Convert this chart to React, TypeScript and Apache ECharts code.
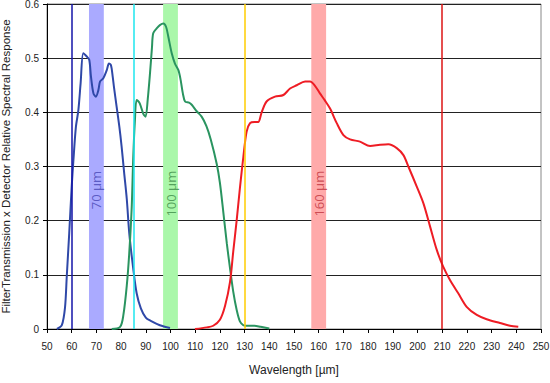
import React, { useEffect, useRef } from "react";
import * as echarts from "echarts";

const blueX = [54, 56, 57.3, 58, 59, 60, 60.7, 61.7, 62.7, 63.6, 64.7, 66.1, 67.1, 67.8, 68.8, 69.8, 70.8, 71.5, 72.8, 74.2, 75.1, 75.9, 76.6, 77.1, 78.2, 79.3, 80.2, 81.2, 82.3, 83.3, 84.9, 86.3, 88, 90, 92, 95.7, 99.8];
const blueY = [0, 0.007, 0.04, 0.097, 0.177, 0.263, 0.312, 0.373, 0.404, 0.453, 0.509, 0.503, 0.497, 0.466, 0.435, 0.429, 0.441, 0.457, 0.463, 0.478, 0.49, 0.487, 0.466, 0.447, 0.41, 0.373, 0.337, 0.29, 0.24, 0.177, 0.112, 0.066, 0.038, 0.021, 0.015, 0.007, 0.002];

const greenX = [76.2, 79.6, 80.9, 82.3, 83.3, 84.3, 84.9, 85.6, 86.3, 87.5, 89, 89.9, 90.8, 91.7, 92.5, 93, 94.4, 95.7, 97.1, 98.2, 99.1, 100.5, 101.8, 103.2, 104.1, 105, 105.9, 107.5, 108.6, 110.6, 112.6, 114.5, 116.3, 118.7, 120, 121.4, 122.8, 124.1, 125.4, 126.8, 128.1, 129.5, 130.5, 134, 136.5, 140];
const greenY = [0, 0.004, 0.025, 0.08, 0.14, 0.225, 0.315, 0.386, 0.423, 0.417, 0.397, 0.392, 0.425, 0.472, 0.52, 0.546, 0.555, 0.561, 0.564, 0.558, 0.54, 0.509, 0.49, 0.478, 0.46, 0.435, 0.42, 0.418, 0.414, 0.402, 0.392, 0.375, 0.35, 0.305, 0.27, 0.215, 0.158, 0.112, 0.069, 0.035, 0.014, 0.007, 0.006, 0.006, 0.004, 0.001];

const redX = [109.9, 114.7, 117.3, 120, 122.1, 124.1, 125.4, 126.8, 128.1, 129.5, 130.8, 132.2, 134, 135.5, 136.9, 138.9, 142.3, 145.7, 148.4, 151.1, 154.5, 156.5, 158.5, 160.5, 162.5, 164.6, 167.3, 170, 172.7, 176.7, 180.8, 184.8, 188.2, 191.6, 194.3, 196.3, 199.7, 202.4, 205.1, 207.8, 210.4, 213.2, 216.5, 219.9, 224, 228, 233.4, 237.4, 240.8];
const redY = [0, 0.003, 0.006, 0.017, 0.043, 0.087, 0.143, 0.201, 0.26, 0.318, 0.364, 0.38, 0.382, 0.382, 0.4, 0.42, 0.429, 0.432, 0.444, 0.45, 0.457, 0.457, 0.449, 0.435, 0.422, 0.407, 0.38, 0.358, 0.35, 0.346, 0.338, 0.34, 0.341, 0.334, 0.321, 0.3, 0.263, 0.232, 0.189, 0.146, 0.115, 0.09, 0.066, 0.041, 0.026, 0.018, 0.011, 0.006, 0.004];

const bandCenters = [70, 100, 160];
const bandHalfWidth = 3;
const bandLabels = ["70 µm", "100 µm", "160 µm"];
const bandColors = ["#aaaaff", "#aaf7aa", "#ffaaaa"];
const bandTextColors = ["#4646b4", "#3c8a46", "#c0323c"];
const labelAnchorY = 0.292;

const refLines = [60, 85, 130, 210];
const refLineColors = ["#1414a8", "#1ee6ee", "#ffcc00", "#dd1414"];

const pairs = (xs: number[], ys: number[]) => xs.map((x, i) => [x, ys[i]]);

export default function App() {
  const ref = useRef<HTMLDivElement>(null);
  useEffect(() => {
    if (!ref.current) return;
    const chart = echarts.init(ref.current, null, { renderer: "svg" });
    const font = "Liberation Sans";
    chart.setOption({
      animation: false,
      grid: {
        left: 47,
        right: 9,
        top: 4,
        bottom: 54,
        containLabel: false,
        outerBoundsMode: "none",
        show: true,
        borderColor: "#888",
        borderWidth: 1,
      },
      xAxis: {
        type: "value",
        min: 50,
        max: 250,
        interval: 10,
        name: "Wavelength [µm]",
        nameLocation: "middle",
        nameGap: 35,
        nameTextStyle: { fontFamily: font, fontSize: 12, color: "#222" },
        axisLine: { onZero: false, lineStyle: { color: "#000", width: 1 } },
        axisTick: { show: true, length: 4, lineStyle: { color: "#000" } },
        axisLabel: { fontFamily: font, fontSize: 10, color: "#222", margin: 12 },
        splitLine: { show: false },
      },
      yAxis: {
        type: "value",
        min: 0,
        max: 0.6,
        interval: 0.1,
        name: "FilterTransmission x Detector Relative Spectral Response",
        nameLocation: "middle",
        nameGap: 35,
        nameTextStyle: { fontFamily: font, fontSize: 11.5, color: "#222" },
        axisLine: { show: true, lineStyle: { color: "#000", width: 1 } },
        axisTick: { show: true, length: 4, lineStyle: { color: "#000" } },
        axisLabel: {
          fontFamily: font,
          fontSize: 10,
          color: "#222",
          margin: 8,
          formatter: (v: number) => (v === 0 ? "0" : v.toFixed(1)),
        },
        splitLine: { show: true, lineStyle: { color: "#222", width: 1 } },
      },
      series: [
        {
          type: "line",
          name: "bands",
          data: [],
          silent: true,
          z: 1,
          markArea: {
            silent: true,
            data: bandCenters.map((c, i) => [
              { xAxis: c - bandHalfWidth, itemStyle: { color: bandColors[i], opacity: 1 } },
              { xAxis: c + bandHalfWidth },
            ]),
          },
          markLine: {
            silent: true,
            symbol: "none",
            label: { show: false },
            data: refLines.map((x, i) => ({
              xAxis: x,
              lineStyle: { color: refLineColors[i], width: 1.5, type: "solid", opacity: 1 },
            })),
          },
        },
        {
          type: "scatter",
          name: "labels",
          symbolSize: 0,
          silent: true,
          z: 3,
          data: bandCenters.map((c, i) => ({
            value: [c, labelAnchorY],
            label: {
              show: true,
              position: "inside",
              formatter: bandLabels[i],
              rotate: 90,
              align: "right",
              verticalAlign: "middle",
              color: bandTextColors[i],
              fontFamily: "Open Sans",
              fontSize: 13,
            },
          })),
        },
        {
          type: "line",
          name: "blue",
          data: pairs(blueX, blueY),
          showSymbol: false,
          smooth: 0.3,
          z: 4,
          lineStyle: { color: "#2f48a8", width: 2 },
        },
        {
          type: "line",
          name: "green",
          data: pairs(greenX, greenY),
          showSymbol: false,
          smooth: 0.3,
          z: 4,
          lineStyle: { color: "#2a9460", width: 2 },
        },
        {
          type: "line",
          name: "red",
          data: pairs(redX, redY),
          showSymbol: false,
          smooth: 0.3,
          z: 4,
          lineStyle: { color: "#ee1c24", width: 2 },
        },
      ],
    });
    return () => chart.dispose();
  }, []);
  return <div ref={ref} style={{ width: 550, height: 383, position: "absolute", left: 0, top: 0 }} />;
}
